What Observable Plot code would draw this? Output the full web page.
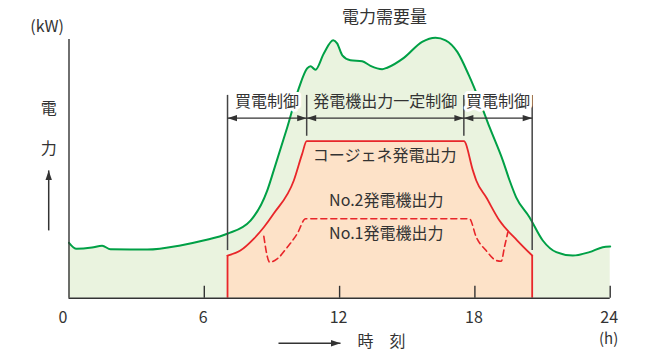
<!DOCTYPE html>
<html><head><meta charset="utf-8">
<script src="https://cdn.jsdelivr.net/npm/d3@7"></script>
<script src="https://cdn.jsdelivr.net/npm/@observablehq/plot@0.6"></script>
<style>body{margin:0;background:#fff} svg{display:block}</style>
</head><body><div id="chart"></div>
<script>
// 電力需要量 (hours, relative kW)
const demandHour = [0.00,0.33,1.02,1.47,1.84,3.47,4.94,5.96,7.02,8.05,8.79,9.08,9.68,10.19,10.56,10.71,10.93,11.30,11.72,11.89,12.12,12.48,13.00,13.37,13.89,14.11,14.85,15.66,16.25,16.70,17.22,17.73,18.20,18.65,19.24,19.54,19.83,20.42,21.01,21.61,22.34,23.08,23.67,24.00];
const demandKW   = [21.4,19.1,19.6,20.3,18.9,18.8,20.4,22.3,24.9,30.0,41.6,49.4,66.1,81.1,88.8,89.7,88.3,94.6,99.7,98.5,93.9,92.0,91.6,89.8,88.5,89.1,92.9,99.1,100.7,99.7,95.2,86.2,76.4,66.1,53.2,45.5,39.0,31.3,22.3,17.8,16.5,17.8,19.7,20.0];
// コージェネ発電出力
const cogenHour = [7.03,7.60,8.20,8.64,9.08,9.97,10.34,10.54,17.51,17.91,18.06,18.50,19.09,19.88,20.54];
const cogenKW   = [16.5,18.4,23.0,27.4,32.7,45.5,55.8,60.7,60.7,49.4,45.5,39.0,30.0,22.3,16.5];
// No.1発電機出力 (dashed boundary)
const no1Hour = [8.64,8.90,9.23,9.68,10.12,10.49,17.76,18.06,18.50,18.94,19.17,19.31,19.46];
const no1KW   = [23.9,13.9,15.2,19.7,24.9,30.7,30.7,23.6,18.4,14.6,14.3,19.7,25.5];
// 制御区間
const controlBounds = [7.03, 10.54, 17.51, 20.54];
const controlLabels = ["買電制御", "発電機出力一定制御", "買電制御"];
// x axis ticks
const tickHours = [0, 6, 12, 18, 24];
const tickLabels = ["0", "6", "12", "18", "24"];

const demand = demandHour.map((h, i) => ({h, v: demandKW[i]}));
const cogen = cogenHour.map((h, i) => ({h, v: cogenKW[i]}));
const no1 = no1Hour.map((h, i) => ({h, v: no1KW[i]}));
const cogenAt = h => cogen.reduce((a, b) => Math.abs(b.h - h) < Math.abs(a.h - h) ? b : a).v;

const segs = controlLabels.map((label, i) => ({
  label, x1: controlBounds[i], x2: controlBounds[i + 1], mid: (controlBounds[i] + controlBounds[i + 1]) / 2
}));
const bounds = controlBounds.map(h => ({h, bottom: cogenAt(h) + 1.9}));

const GREEN = "#00a046", GREEN_FILL = "#eaf3df", RED = "#e8262a", ORANGE_FILL = "#fde2c8", INK = "#333";
const FONT = "'Noto Sans CJK JP', 'Noto Sans', sans-serif";
const ARROW_Y = 69.6, LABEL_Y = 76.0, BOUND_TOP = 78.4;

const plot = Plot.plot({
  width: 659, height: 351,
  marginLeft: 68.5, marginRight: 49.3, marginTop: 39, marginBottom: 53.3,
  x: {domain: [0, 24], axis: null},
  y: {domain: [0, 100], axis: null},
  style: {fontFamily: FONT, background: "white", color: INK, overflow: "visible"},
  marks: [
    Plot.areaY(demand, {x: "h", y: "v", fill: GREEN_FILL, curve: "monotone-x"}),
    Plot.areaY(cogen, {x: "h", y: "v", fill: ORANGE_FILL, curve: "monotone-x"}),
    Plot.line(demand, {x: "h", y: "v", stroke: GREEN, strokeWidth: 2, curve: "monotone-x"}),
    Plot.line(cogen, {x: "h", y: "v", stroke: RED, strokeWidth: 1.8, curve: "monotone-x"}),
    Plot.ruleX([cogen[0], cogen[cogen.length - 1]], {x: "h", y1: 0, y2: "v", stroke: RED, strokeWidth: 1.8}),
    Plot.line(no1, {x: "h", y: "v", stroke: RED, strokeWidth: 1.6, strokeDasharray: "6,4", curve: "monotone-x"}),
    // axes
    Plot.ruleX([0], {y1: 0, y2: 100, stroke: INK, strokeWidth: 1.4}),
    Plot.ruleY([0], {x1: 0, x2: 24, stroke: INK, strokeWidth: 1.4}),
    Plot.ruleX(tickHours.filter(t => t > 0), {y1: 0, y2: 4.6, stroke: INK, strokeWidth: 1.4}),
    Plot.text(tickHours.slice(1), {x: d => d, y: -7.6, text: (d, i) => tickLabels[i + 1], fontSize: 16, fill: INK, lineAnchor: "middle", dx: -1}),
    Plot.text([tickHours[0]], {x: d => d, y: -7.6, text: () => tickLabels[0], fontSize: 16, fill: INK, lineAnchor: "middle", dx: -6}),
    Plot.text(["(h)"], {x: 23.93, y: -15.9, text: d => d, fontSize: 15, fill: INK, lineAnchor: "middle"}),
    // control boundaries
    Plot.ruleX(bounds, {x: "h", y1: "bottom", y2: BOUND_TOP, stroke: "#444", strokeWidth: 1.5}),
    Plot.link(segs, {x1: "x1", x2: "x2", y1: ARROW_Y, y2: ARROW_Y, stroke: INK, strokeWidth: 1.3, markerStart: "arrow", markerEnd: "arrow"}),
    Plot.text([segs[0], segs[2]], {x: "mid", y: LABEL_Y, text: "label", fontSize: 16, fill: INK, stroke: "white", strokeWidth: 6, lineAnchor: "middle"}),
    Plot.text([segs[1]], {x: "mid", y: LABEL_Y, text: "label", fontSize: 16, fill: INK, lineAnchor: "middle"}),
    // area labels
    Plot.text(["コージェネ発電出力"], {x: 14.0, y: 55.2, text: d => d, fontSize: 16, fill: INK, lineAnchor: "middle"}),
    Plot.text(["No.2発電機出力"], {x: 14.07, y: 37.8, text: d => d, fontSize: 16, fill: INK, lineAnchor: "middle"}),
    Plot.text(["No.1発電機出力"], {x: 14.07, y: 24.9, text: d => d, fontSize: 16, fill: INK, lineAnchor: "middle"}),
    Plot.text(["電力需要量"], {x: 13.99, y: 108.3, text: d => d, fontSize: 17, fill: INK, lineAnchor: "middle"}),
    // y axis annotation
    Plot.text(["(kW)"], {x: -0.97, y: 104.8, text: d => d, fontSize: 16, fill: INK, lineAnchor: "middle"}),
    Plot.text(["電", "力"], {x: -0.90, y: (d, i) => [73.3, 57.9][i], text: d => d, fontSize: 16, fill: INK, lineAnchor: "middle"}),
    Plot.link([{x: -0.90, a: 26.2, b: 49.4}], {x1: "x", x2: "x", y1: "a", y2: "b", stroke: INK, strokeWidth: 1.5, markerEnd: "arrow"}),
    // x axis annotation
    Plot.link([{a: 9.29, b: 12.04, y: -17.4}], {x1: "a", x2: "b", y1: "y", y2: "y", stroke: INK, strokeWidth: 1.5, markerEnd: "arrow"}),
    Plot.text(["時　刻"], {x: 13.86, y: -16.7, text: d => d, fontSize: 16, fill: INK, lineAnchor: "middle"})
  ]
});

// filled triangular arrowheads, start markers reversed to point outward
plot.querySelectorAll("marker").forEach(m => {
  const color = m.getAttribute("stroke") || INK;
  m.setAttribute("viewBox", "-10 -4 10 8");
  m.setAttribute("markerUnits", "userSpaceOnUse");
  m.setAttribute("markerWidth", "10");
  m.setAttribute("markerHeight", "8");
  m.setAttribute("orient", "auto-start-reverse");
  m.setAttribute("fill", color);
  m.setAttribute("stroke", "none");
  m.querySelectorAll("path").forEach(p => p.setAttribute("d", "M-9.5,-3.2L0,0L-9.5,3.2Z"));
});
document.getElementById("chart").appendChild(plot);
</script>
</body></html>
